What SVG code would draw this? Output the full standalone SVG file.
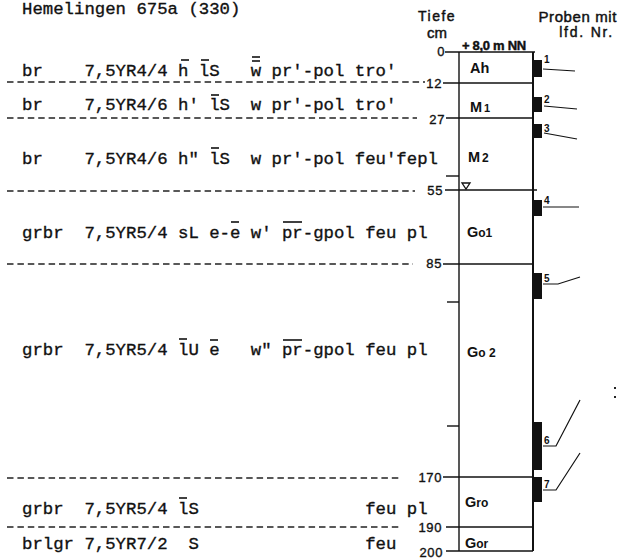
<svg xmlns="http://www.w3.org/2000/svg" width="618" height="559" viewBox="0 0 618 559">
<style>
.mono{font-family:"Liberation Mono","DejaVu Sans Mono",monospace;font-size:17.33px;fill:#111;stroke:#111;stroke-width:0.35}
.sans{font-family:"Liberation Sans",Arial,sans-serif;fill:#111;stroke:#111;stroke-width:0.45}
.dep{font-family:"Liberation Sans",Arial,sans-serif;font-size:13px;fill:#111;stroke:#111;stroke-width:0.35;text-anchor:end;letter-spacing:0.6px}
.hor{font-family:"Liberation Sans",Arial,sans-serif;font-size:14.5px;font-weight:bold;fill:#111}
.num{font-family:"Liberation Sans",Arial,sans-serif;font-size:10px;font-weight:bold;fill:#111}
.dash{stroke:#222;stroke-width:1.3;stroke-dasharray:6.5 3.9;fill:none}
.ln{stroke:#111;stroke-width:1.4;fill:none}
.bar{stroke:#111;stroke-width:1.6}
.smp{fill:#111}
</style>
<rect width="618" height="559" fill="#fff"/>
<text class="mono" x="22" y="13.5" xml:space="preserve">Hemelingen 675a (330)</text>
<g id="headers">
<text class="sans" x="418" y="21" font-size="14" letter-spacing="1.5">Tiefe</text>
<text class="sans" x="427" y="38" font-size="15">cm</text>
<text class="sans" x="462" y="50" font-size="13" font-weight="bold" stroke-width="0" letter-spacing="-0.3">+ 8,0 m NN</text>
<text class="sans" x="617" y="22" font-size="15" text-anchor="end" letter-spacing="0.6">Proben mit</text>
<text class="sans" x="614" y="37" font-size="14" text-anchor="end" letter-spacing="1.8">lfd. Nr.</text>
</g>
<g id="dashes">
<line class="dash" x1="7" y1="82" x2="425" y2="82"/>
<line class="dash" x1="7" y1="118" x2="417" y2="118"/>
<line class="dash" x1="7" y1="191" x2="415" y2="191"/>
<line class="dash" x1="7" y1="264" x2="413" y2="264"/>
<line class="dash" x1="7" y1="478" x2="400" y2="478"/>
<line class="dash" x1="7" y1="527" x2="400" y2="527"/>
</g>
<g id="rows">
<text class="mono" x="22" y="76" xml:space="preserve">br    7,5YR4/4 h lS   w pr'-pol tro'</text>
<text class="mono" x="22" y="110" xml:space="preserve">br    7,5YR4/6 h' lS  w pr'-pol tro'</text>
<text class="mono" x="22" y="164" xml:space="preserve">br    7,5YR4/6 h" lS  w pr'-pol feu'fepl</text>
<text class="mono" x="22" y="238" xml:space="preserve">grbr  7,5YR5/4 sL e-e w' pr-gpol feu pl</text>
<text class="mono" x="22" y="355" xml:space="preserve">grbr  7,5YR5/4 lU e   w" pr-gpol feu pl</text>
<text class="mono" x="22" y="514" xml:space="preserve">grbr  7,5YR5/4 lS                feu pl</text>
<text class="mono" x="22" y="549" xml:space="preserve">brlgr 7,5YR7/2  S                feu</text>
</g>
<g id="overbars">
<line class="bar" x1="181" y1="60" x2="189" y2="60"/>
<line class="bar" x1="201" y1="60" x2="209" y2="60"/>
<line class="bar" x1="252" y1="57" x2="260" y2="57"/>
<line class="bar" x1="252" y1="61" x2="260" y2="61"/>
<line class="bar" x1="211" y1="95" x2="219" y2="95"/>
<line class="bar" x1="211" y1="148" x2="219" y2="148"/>
<line class="bar" x1="231" y1="222" x2="239" y2="222"/>
<line class="bar" x1="283" y1="222" x2="302" y2="222"/>
<line class="bar" x1="179" y1="339" x2="187" y2="339"/>
<line class="bar" x1="210" y1="340" x2="218" y2="340"/>
<line class="bar" x1="283" y1="340" x2="302" y2="340"/>
<line class="bar" x1="179" y1="498" x2="187" y2="498"/>
</g>
<g id="column">
<line class="ln" x1="445" y1="52" x2="535" y2="52"/>
<line class="ln" x1="459" y1="52" x2="459" y2="551"/>
<line x1="533" y1="52" x2="533" y2="551" stroke="#111" stroke-width="2"/>
<line class="ln" x1="443" y1="83" x2="533" y2="83"/>
<line class="ln" x1="446" y1="118" x2="533" y2="118"/>
<line class="ln" x1="445" y1="190" x2="537" y2="190"/>
<line class="ln" x1="443" y1="264" x2="533" y2="264"/>
<line class="ln" x1="443" y1="477" x2="533" y2="477"/>
<line class="ln" x1="446" y1="527" x2="533" y2="527"/>
<line class="ln" x1="446" y1="551" x2="533" y2="551"/>
<line class="ln" x1="446" y1="176" x2="459" y2="176"/>
<line class="ln" x1="447" y1="302" x2="459" y2="302"/>
<line class="ln" x1="447" y1="426" x2="459" y2="426"/>
<polygon points="462,183 470,183 466,189" fill="none" stroke="#111" stroke-width="1.3"/>
</g>
<g id="depths">
<text class="dep" x="445" y="56">0</text>
<text class="dep" x="442" y="88">12</text>
<text class="dep" x="445" y="124">27</text>
<text class="dep" x="443" y="195">55</text>
<text class="dep" x="442" y="268">85</text>
<text class="dep" x="442" y="482">170</text>
<text class="dep" x="442" y="532">190</text>
<text class="dep" x="443" y="557">200</text>
</g>
<g id="horizons">
<text class="hor" x="470" y="73">Ah</text>
<text class="hor" x="470" y="112">M<tspan font-size="11" dx="2">1</tspan></text>
<text class="hor" x="468" y="162">M<tspan font-size="12" dx="2">2</tspan></text>
<text class="hor" x="467" y="237">G<tspan font-size="12">o1</tspan></text>
<text class="hor" x="467" y="357">G<tspan font-size="12">o 2</tspan></text>
<text class="hor" x="465" y="507">G<tspan font-size="12">ro</tspan></text>
<text class="hor" x="465" y="548">G<tspan font-size="12">or</tspan></text>
</g>
<g id="samples">
<rect class="smp" x="533" y="60" width="9" height="17"/>
<rect class="smp" x="533" y="97" width="9" height="15"/>
<rect class="smp" x="533" y="124" width="9" height="14"/>
<rect class="smp" x="533" y="200" width="9" height="16"/>
<rect class="smp" x="533" y="273" width="9" height="26"/>
<rect class="smp" x="533" y="422" width="9" height="48"/>
<rect class="smp" x="533" y="477" width="9" height="25"/>
<text class="num" x="544" y="63">1</text>
<text class="num" x="544" y="103">2</text>
<text class="num" x="544" y="132">3</text>
<text class="num" x="544" y="204">4</text>
<text class="num" x="544" y="282">5</text>
<text class="num" x="544" y="444">6</text>
<text class="num" x="544" y="488">7</text>
</g>
<g id="connectors" fill="none" stroke="#111" stroke-width="1.2">
<polyline points="543,69 575,71"/>
<polyline points="544,106 577,109"/>
<polyline points="544,133 577,139"/>
<polyline points="543,207 579,207"/>
<polyline points="543,284 558,284 580,277"/>
<polyline points="543,446 556,446 580,400"/>
<polyline points="543,490 556,490 580,453"/>
</g>
<rect x="614" y="387" width="2" height="2" fill="#222"/>
<rect x="614" y="396" width="2" height="2" fill="#222"/>
</svg>
